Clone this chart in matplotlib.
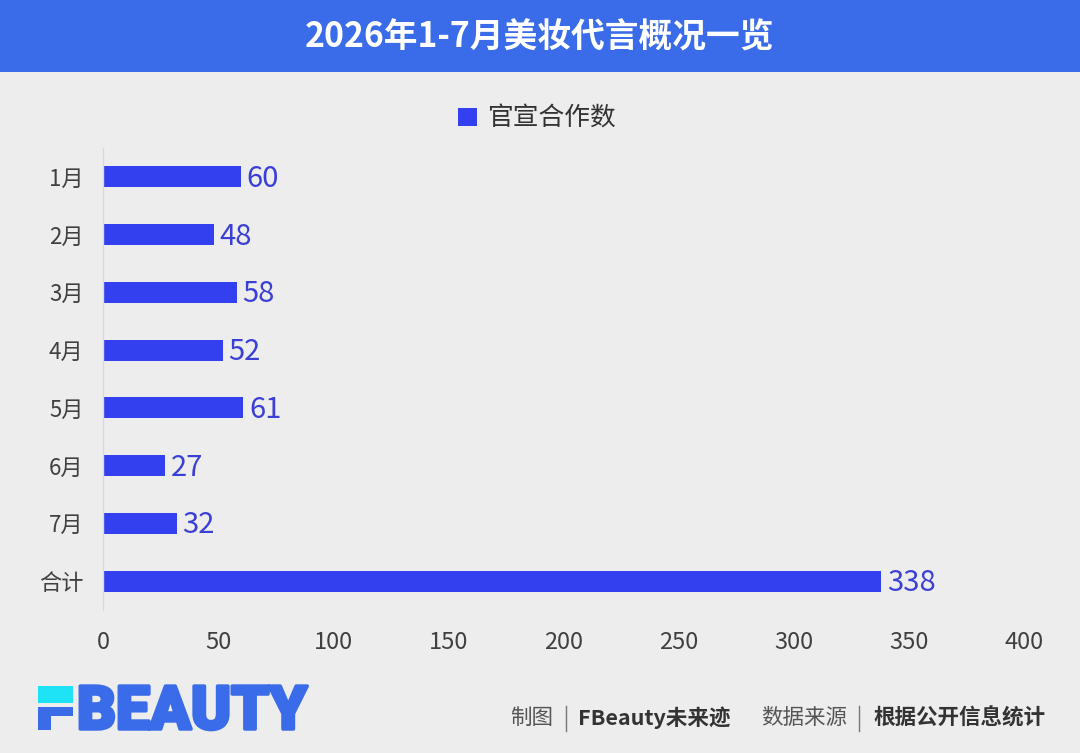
import matplotlib
matplotlib.use("Agg")
import matplotlib.pyplot as plt
from matplotlib.patches import Rectangle, Patch
from matplotlib.lines import Line2D
import matplotlib.patheffects as pe

plt.rcParams['font.family'] = ['Noto Sans CJK SC', 'DejaVu Sans']

categories = ["1月", "2月", "3月", "4月", "5月", "6月", "7月", "合计"]
values = [60, 48, 58, 52, 61, 27, 32, 338]
series_name = "官宣合作数"
x_ticks = [0, 50, 100, 150, 200, 250, 300, 350, 400]
title = "2026年1-7月美妆代言概况一览"

W, H = 1080, 753
BG = "#ededed"
HEADER = "#3a6be8"
BAR = "#3340f0"
LABEL = "#3a3fd6"

fig = plt.figure(figsize=(W / 100, H / 100), dpi=100, facecolor=BG)


def px_rect(x1, y1, x2, y2, color):
    fig.patches.append(Rectangle((x1 / W, 1 - y2 / H), (x2 - x1) / W, (y2 - y1) / H,
                                 transform=fig.transFigure, facecolor=color,
                                 edgecolor="none", zorder=0))


# header band
px_rect(0, 0, W, 72, HEADER)
fig.text(0.5, 1 - 37 / H, title, color="white", fontsize=24.3, fontweight="bold",
         ha="center", va="center")

# axes
ax = fig.add_axes([103 / W, 1 - 610 / H, (1024 - 103) / W, (610 - 148) / H])
ax.set_facecolor(BG)
ypos = list(range(len(categories)))
bars = ax.barh(ypos, values, height=0.36, color=BAR, label=series_name)
ax.set_ylim(len(categories) - 0.5, -0.5)
ax.set_xlim(0, 400)
ax.set_yticks(ypos)
ax.set_yticklabels(categories, fontsize=16, color="#404040")
ax.set_xticks(x_ticks)
ax.set_xticklabels([str(t) for t in x_ticks], fontsize=17, color="#404040")
ax.tick_params(axis="both", length=0)
ax.tick_params(axis="y", pad=14)
ax.tick_params(axis="x", pad=15)
for s in ["top", "right", "bottom"]:
    ax.spines[s].set_visible(False)
ax.spines["left"].set_color("#d9d9d9")
ax.spines["left"].set_linewidth(1)

for b, v in zip(bars, values):
    ax.annotate(str(v), (b.get_width(), b.get_y() + b.get_height() / 2),
                xytext=(4, -1.5), textcoords="offset points", ha="left", va="center",
                fontsize=21, color=LABEL)

fig.legend(handles=[Patch(facecolor=BAR, edgecolor="none", label=series_name)],
           loc="center", bbox_to_anchor=(0.497, 1 - 119 / H), frameon=False,
           fontsize=18.5, handlelength=0.75, handleheight=0.75, handletextpad=0.4,
           labelcolor="#333333")

# logo
CYAN = "#1ee3f7"
LOGO = "#3a6be8"
px_rect(38, 686, 73, 703, CYAN)
px_rect(38, 707, 73, 716, LOGO)
px_rect(38, 707, 51, 730, LOGO)
fig.text(77 / W, 1 - 729 / H, "BEAUTY", family=["Roboto", "DejaVu Sans"],
         fontweight="black", fontsize=43.5, color=LOGO, ha="left", va="baseline",
         path_effects=[pe.withStroke(linewidth=2.5, foreground=LOGO)])

# footer
fy = 1 - 718 / H
fig.text(510 / W, fy, "制图", fontsize=15.5, color="#555555", ha="left", va="center")
fig.text(578 / W, fy, "FBeauty未来迹", fontsize=15.5, color="#333333",
         fontweight="bold", ha="left", va="center")
fig.text(761 / W, fy, "数据来源", fontsize=15.5, color="#555555", ha="left", va="center")
fig.text(873 / W, fy, "根据公开信息统计", fontsize=15.5, color="#333333",
         fontweight="bold", ha="left", va="center")
for xs in (566, 859):
    fig.lines.append(Line2D([xs / W, xs / W], [1 - 706 / H, 1 - 731 / H],
                            transform=fig.transFigure, color="#777777", linewidth=1))

fig.savefig("out.png", dpi=100, facecolor=BG)
